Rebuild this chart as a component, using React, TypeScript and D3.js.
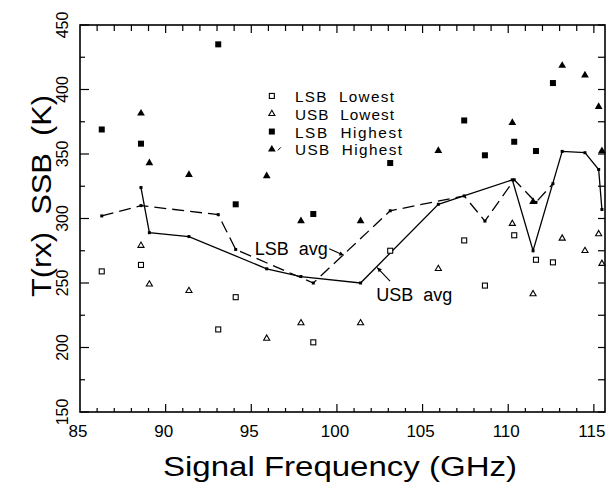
import { useRef, useEffect } from 'react';
import * as d3 from 'd3';

// frequencies (GHz) of the LSB and USB measurements
const lsbFreq = [86.27, 88.56, 93.07, 94.09, 98.62, 103.11, 107.43, 108.64, 110.35, 111.62, 112.61];
const usbFreq = [88.56, 89.05, 91.36, 95.9, 97.9, 101.38, 105.92, 110.24, 111.45, 113.15, 114.48, 115.28, 115.47];

// T(rx) SSB values (K)
const lsbLowest = [259, 264, 214, 239, 204, 275, 283, 248, 287, 268, 266];
const lsbHighest = [369, 358, 435, 311, 303.5, 343, 376, 349, 359.5, 352.3, 405];
const lsbAvg = [302, 310, 303, 276, 250, 306, 317.5, 298, 330, 312.5, 327];

const usbLowest = [279, 249, 244, 207, 219, 219, 261, 296, 241.5, 284.6, 275, 288, 265];
const usbHighest = [381.5, 343, 334, 333, 298, 298, 352.6, 374.3, 313, 418.5, 411, 386.7, 352.3];
const usbAvg = [324, 289, 286, 261, 255, 250, 311, 330, 275, 352, 351, 338, 307];

const xMajor = [85, 90, 95, 100, 105, 110, 115];
const xMinor = d3.range(86, 116, 1);
const yMajor = [150, 200, 250, 300, 350, 400, 450];
const yMinor = d3.range(175, 450, 50);

const legendItems = ['LSB  Lowest', 'USB  Lowest', 'LSB  Highest', 'USB  Highest'];

function Chart({ width, height }) {
  const ref = useRef(null);

  useEffect(() => {
    const svg = d3.select(ref.current);
    svg.selectAll('*').remove();

    const margin = { top: 25, right: 7, bottom: 73, left: 80 };
    const x = d3.scaleLinear().domain([85, 115.65]).range([margin.left, width - margin.right]);
    const y = d3.scaleLinear().domain([150, 450]).range([height - margin.bottom, margin.top]);
    const [x0, x1] = x.range();
    const [y0, y1] = y.range();
    const font = 'Liberation Sans, Arial, sans-serif';

    // frame
    svg.append('rect')
      .attr('x', x0).attr('y', y1)
      .attr('width', x1 - x0).attr('height', y0 - y1)
      .attr('fill', 'none').attr('stroke', '#000').attr('stroke-width', 1.6);

    const ticks = svg.append('g').attr('stroke', '#000').attr('stroke-width', 1.2);
    // bottom ticks
    ticks.selectAll('.bmin').data(xMinor).join('line').attr('class', 'bmin')
      .attr('x1', d => x(d)).attr('x2', d => x(d))
      .attr('y1', y0).attr('y2', d => y0 - (d % 5 === 0 ? 8 : 4));
    // top ticks
    ticks.selectAll('.tmin').data(xMinor).join('line').attr('class', 'tmin')
      .attr('x1', d => x(d)).attr('x2', d => x(d))
      .attr('y1', y1).attr('y2', d => y1 + (d % 5 === 0 ? 8 : 6));
    // left ticks
    ticks.selectAll('.lmaj').data(yMajor.concat(yMinor)).join('line').attr('class', 'lmaj')
      .attr('y1', d => y(d)).attr('y2', d => y(d))
      .attr('x1', x0).attr('x2', d => x0 + (d % 50 === 0 ? 9 : 5));
    // right ticks
    ticks.selectAll('.rmaj').data(yMajor.concat(yMinor)).join('line').attr('class', 'rmaj')
      .attr('y1', d => y(d)).attr('y2', d => y(d))
      .attr('x1', x1).attr('x2', x1 - 7);

    // x tick labels
    svg.append('g').selectAll('text').data(xMajor).join('text')
      .attr('x', d => x(d) - 2).attr('y', y0 + 25)
      .attr('text-anchor', 'middle')
      .style('font-family', font).style('font-size', '17px')
      .text(d => d);

    // y tick labels
    svg.append('g').selectAll('text').data(yMajor).join('text')
      .attr('transform', d => `translate(68,${y(d)}) rotate(-90)`)
      .attr('text-anchor', 'middle')
      .style('font-family', font).style('font-size', '16px')
      .text(d => d);

    // axis titles
    svg.append('text')
      .attr('x', 163).attr('y', 476)
      .attr('textLength', 354).attr('lengthAdjust', 'spacingAndGlyphs')
      .style('font-family', font).style('font-size', '27px')
      .text('Signal Frequency (GHz)');
    svg.append('text')
      .attr('transform', 'translate(51,297) rotate(-90)')
      .attr('textLength', 202).attr('lengthAdjust', 'spacingAndGlyphs')
      .style('font-family', font).style('font-size', '27px')
      .style('white-space', 'pre')
      .text('T(rx)  SSB  (K)');

    const lsbLow = lsbFreq.map((f, i) => [f, lsbLowest[i]]);
    const lsbHigh = lsbFreq.map((f, i) => [f, lsbHighest[i]]);
    const lsbLine = lsbFreq.map((f, i) => [f, lsbAvg[i]]);
    const usbLow = usbFreq.map((f, i) => [f, usbLowest[i]]);
    const usbHigh = usbFreq.map((f, i) => [f, usbHighest[i]]);
    const usbLine = usbFreq.map((f, i) => [f, usbAvg[i]]);

    const line = d3.line().x(d => x(d[0])).y(d => y(d[1]));

    // average lines
    svg.append('path').datum(lsbLine)
      .attr('d', line).attr('fill', 'none')
      .attr('stroke', '#000').attr('stroke-width', 1.3)
      .attr('stroke-dasharray', '12,6');
    svg.append('path').datum(usbLine)
      .attr('d', line).attr('fill', 'none')
      .attr('stroke', '#000').attr('stroke-width', 1.3);
    svg.append('g').selectAll('rect').data(lsbLine.concat(usbLine)).join('rect')
      .attr('x', d => x(d[0]) - 1.5).attr('y', d => y(d[1]) - 1.5)
      .attr('width', 3).attr('height', 3).attr('fill', '#000');

    const tri = d3.symbol().type(d3.symbolTriangle);

    // lowest: open symbols
    svg.append('g').selectAll('rect').data(lsbLow).join('rect')
      .attr('x', d => x(d[0]) - 2.5).attr('y', d => y(d[1]) - 2.5)
      .attr('width', 5).attr('height', 5)
      .attr('fill', '#fff').attr('stroke', '#000').attr('stroke-width', 1.1);
    svg.append('g').selectAll('path').data(usbLow).join('path')
      .attr('transform', d => `translate(${x(d[0])},${y(d[1])})`)
      .attr('d', tri.size(16))
      .attr('fill', '#fff').attr('stroke', '#000').attr('stroke-width', 1.1);

    // highest: filled symbols
    svg.append('g').selectAll('rect').data(lsbHigh).join('rect')
      .attr('x', d => x(d[0]) - 3).attr('y', d => y(d[1]) - 3)
      .attr('width', 6).attr('height', 6).attr('fill', '#000');
    svg.append('g').selectAll('path').data(usbHigh).join('path')
      .attr('transform', d => `translate(${x(d[0])},${y(d[1])})`)
      .attr('d', tri.size(26)).attr('fill', '#000');

    // legend
    const lg = svg.append('g');
    legendItems.forEach((label, i) => {
      const cy = y(395) + i * 17.8;
      const cx = x(96.2);
      if (i === 0) {
        lg.append('rect').attr('x', cx - 2.5).attr('y', cy - 2.5).attr('width', 5).attr('height', 5)
          .attr('fill', '#fff').attr('stroke', '#000').attr('stroke-width', 1.1);
      } else if (i === 1) {
        lg.append('path').attr('transform', `translate(${cx},${cy})`).attr('d', tri.size(16))
          .attr('fill', '#fff').attr('stroke', '#000').attr('stroke-width', 1.1);
      } else if (i === 2) {
        lg.append('rect').attr('x', cx - 3).attr('y', cy - 3).attr('width', 6).attr('height', 6).attr('fill', '#000');
      } else {
        lg.append('path').attr('transform', `translate(${cx},${cy})`).attr('d', tri.size(26)).attr('fill', '#000');
        lg.append('line').attr('x1', cx + 6).attr('x2', cx + 9).attr('y1', cy + 1).attr('y2', cy - 2)
          .attr('stroke', '#000').attr('stroke-width', 1);
      }
      lg.append('text')
        .attr('x', x(97.55)).attr('y', cy + 6)
        .attr('textLength', i < 2 ? 99 : 107).attr('lengthAdjust', 'spacing')
        .style('font-family', font).style('font-size', '15.3px')
        .style('white-space', 'pre')
        .text(label);
    });

    // annotations
    const ann = svg.append('g').style('font-family', font).style('font-size', '18px');
    ann.append('text').attr('x', x(95.2)).attr('y', y(272)).style('white-space', 'pre').text('LSB  avg');
    ann.append('text').attr('x', x(102.3)).attr('y', y(236)).style('white-space', 'pre').text('USB  avg');

    const arrows = [
      { from: [99.55, 276.5], to: [100.4, 271.5] },
      { from: [103.1, 251.5], to: [102.35, 262] },
    ];
    arrows.forEach(a => {
      const fx = x(a.from[0]), fy = y(a.from[1]);
      const tx = x(a.to[0]), ty = y(a.to[1]);
      const ang = Math.atan2(ty - fy, tx - fx);
      svg.append('line').attr('x1', fx).attr('y1', fy).attr('x2', tx).attr('y2', ty)
        .attr('stroke', '#000').attr('stroke-width', 1.1);
      const h = 5;
      svg.append('path')
        .attr('d', `M${tx},${ty}L${tx - h * Math.cos(ang - 0.45)},${ty - h * Math.sin(ang - 0.45)}L${tx - h * Math.cos(ang + 0.45)},${ty - h * Math.sin(ang + 0.45)}Z`)
        .attr('fill', '#000');
    });
  }, [width, height]);

  return <svg ref={ref} width={width} height={height} style={{ position: 'absolute', left: 0, top: 0, background: '#fff' }} />;
}

export default function App() {
  return <Chart width={612} height={485} />;
}
